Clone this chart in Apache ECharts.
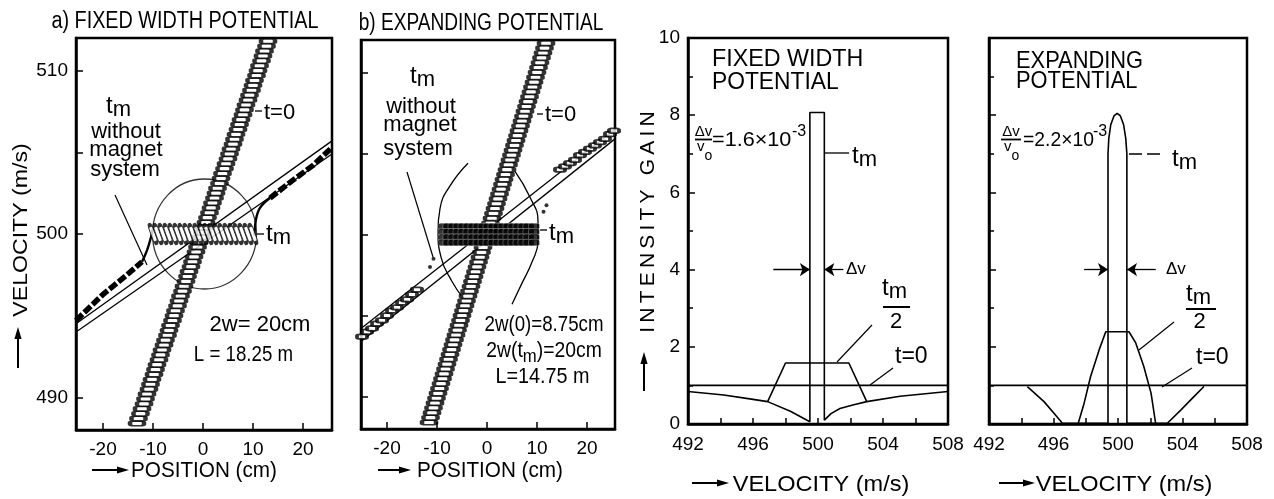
<!DOCTYPE html>
<html><head><meta charset="utf-8"><title>Phase space and intensity gain</title>
<script src="https://cdn.jsdelivr.net/npm/echarts@6.0.0/dist/echarts.min.js"></script>
<style>html,body{margin:0;padding:0;background:#fff;}#chart{width:1274px;height:499px;}</style>
</head><body><div id="chart"></div>
<script>
// ================= DATA =================
const posTicks = [-20, -10, 0, 10, 20];
const velTicks = [490, 495, 500, 505, 510];
const velLabels = [490, 500, 510];
const gainVelLabels = [492, 496, 500, 504, 508];

// t = 0 phase-space rows (velocity of each marker row, m/s)
const t0Vel = [488.4,488.7,489.0,489.3,489.6,489.9,490.2,490.5,490.8,491.1,
  491.4,491.7,492.0,492.3,492.6,492.9,493.2,493.5,493.8,494.1,
  494.4,494.7,495.0,495.3,495.6,495.9,496.2,496.5,496.8,497.1,
  497.4,497.7,498.0,498.3,498.6,498.9,499.2,499.5,499.8,500.1,
  500.4,500.7,501.0,501.3,501.6,501.9,502.2,502.5,502.8,503.1,
  503.4,503.7,504.0,504.3,504.6,504.9,505.2,505.5,505.8,506.1,
  506.4,506.7,507.0,507.3,507.6,507.9,508.2,508.5,508.8,509.1,
  509.4,509.7,510.0,510.3,510.6,510.9,511.2,511.5,511.8];
// panel a: position of each t=0 row (cm)
const aT0Pos = [-13.2,-12.9,-12.5,-12.2,-11.8,-11.5,-11.2,-10.8,-10.5,-10.2,
  -9.8,-9.5,-9.2,-8.8,-8.5,-8.2,-7.8,-7.5,-7.1,-6.8,
  -6.5,-6.1,-5.8,-5.5,-5.1,-4.8,-4.5,-4.1,-3.8,-3.4,
  -3.1,-2.8,-2.4,-2.1,-1.8,-1.4,-1.1,-0.8,-0.4,-0.1,
  0.2,0.6,0.9,1.3,1.6,1.9,2.3,2.6,2.9,3.3,
  3.6,3.9,4.3,4.6,5.0,5.3,5.6,6.0,6.3,6.6,
  7.0,7.3,7.6,8.0,8.3,8.6,9.0,9.3,9.7,10.0,
  10.3,10.7,11.0,11.3,11.7,12.0,12.3,12.7,13.0];
// panel b: position of each t=0 row (cm)
const bT0Pos = [-11.6,-11.3,-11.0,-10.7,-10.4,-10.1,-9.8,-9.5,-9.2,-8.9,
  -8.6,-8.3,-8.0,-7.7,-7.4,-7.1,-6.8,-6.5,-6.2,-5.9,
  -5.6,-5.3,-5.0,-4.7,-4.4,-4.1,-3.8,-3.5,-3.2,-2.9,
  -2.6,-2.3,-2.0,-1.7,-1.4,-1.1,-0.8,-0.5,-0.2,0.1,
  0.4,0.7,1.0,1.3,1.6,1.9,2.2,2.5,2.8,3.1,
  3.4,3.7,4.0,4.3,4.6,4.9,5.2,5.5,5.8,6.1,
  6.4,6.7,7.0,7.3,7.6,7.9,8.2,8.5,8.8,9.1,
  9.4,9.7,10.0,10.3,10.6,10.9,11.2,11.5,11.8];

// panel a: trapped particles at t_m (position, velocity)
const aCore = [[-10,500],[-9,500],[-8,500],[-7,500],[-6,500],[-5,500],[-4,500],[-3,500],[-2,500],[-1,500],[0,500],
  [1,500],[2,500],[3,500],[4,500],[5,500],[6,500],[7,500],[8,500],[9,500],[10,500]];
const aOuterLeft = [[-25.4,494.7],[-20,496.3],[-15.2,497.5],[-12.2,498.3]];
const aBendLeft = [[-12.2,498.3],[-11.2,499.0],[-10.4,499.8],[-10.0,500.4]];
const aBendRight = [[10.3,499.9],[10.6,500.9],[11.4,501.6],[13.4,502.2]];
const aOuterRight = [[13.4,502.2],[18,503.3],[22,504.2],[25.8,505.3]];
const aFreeUpper = [[-25.4,494.5],[25.8,505.7]];
const aFreeLower = [[-25.4,494.0],[25.8,504.9]];
const aSeparatrixCentre = [[0.3,500]];

// panel b
const bCorePos = [-8.7,-7.7,-6.7,-5.7,-4.7,-3.7,-2.7,-1.7,-0.7,0.3,1.3,2.3,3.3,4.3,5.3,6.3,7.3,8.3,9.4];
const bCoreVel = [500.5,500.17,499.83,499.5];
const bOuterPos = [-25.0,-24.0,-23.0,-22.0,-21.0,-20.0,-19.0,-18.0,-17.0,-16.0,-15.0,-14.0,
  14.6,15.6,16.6,17.6,18.6,19.6,20.6,21.6,22.6,23.6,24.6,25.4];
const bOuterVel = [493.7,494.0,494.2,494.5,494.7,495.0,495.3,495.5,495.8,496.0,496.3,496.6,
  504.0,504.2,504.4,504.6,504.9,505.1,505.3,505.5,505.7,505.9,506.2,506.4];
const bStray = [[-10.7,498.5],[-11.4,498.0],[11.3,501.4],[11.9,501.8]];
const bEnvLeft = [[-3.8,504.4],[-7.4,503.0],[-9.4,501.6],[-9.8,500.2],[-9.2,498.6],[-7.0,497.1],[-4.8,496.1]];
const bEnvRight = [[5.6,503.9],[8.6,502.3],[10.2,500.8],[10.2,499.6],[9.0,498.3],[7.0,497.0],[5.0,495.7]];
const bFreeUpper = [[-25.2,494.2],[25.6,506.5]];
const bFreeLower = [[-25.2,493.4],[25.6,505.9]];

// panel c: fixed width potential, intensity gain vs velocity
const cT0 = [[492,1],[508,1]];
const cTm = [[492,0.84],[494.2,0.75],[495.8,0.65],[496.9,0.58],[498.3,0.33],[499.1,0.15],[499.5,0.06],
  [499.5,8.07],[500.39,8.07],[500.39,0.1],[500.8,0.27],[501.35,0.4],[502.2,0.5],[503,0.58],[505.05,0.72],[508,0.84]];
const cHalf = [[496.9,0.58],[498.0,1.58],[501.9,1.58],[503.0,0.58]];
const cDvLeft = [497.25, 499.5];
const cDvRight = [501.56, 500.39];

// panel d: expanding potential
const dT0 = [[492,1],[508,1]];
const dTm = [[494.38,0.97],[495.41,0.58],[496.03,0.28],[496.55,0.02],[499.38,0.02],[499.38,7.0],[499.43,7.4],
  [499.55,7.75],[499.75,7.98],[499.95,8.05],[500.15,7.98],[500.35,7.75],[500.48,7.4],[500.55,7.0],[500.55,0.02],
  [503.06,0.02],[503.89,0.36],[504.71,0.71],[505.33,0.97]];
const dHalf = [[497.52,0],[497.9,0.54],[498.3,1.23],[498.83,1.92],[499.24,2.39],[500.68,2.39],[501.1,2.1],
  [501.6,1.49],[502.05,0.8],[502.34,0]];
const dDvLeft = [497.9, 499.38];
const dDvRight = [502.34, 500.56];
const dvLevel = 4.0;

// ================= HELPERS =================
const FONT = "'Liberation Sans', Arial, Helvetica, sans-serif";
const ctx = document.createElement('canvas').getContext('2d');
function tw(s, size) { ctx.font = size + 'px ' + FONT; return ctx.measureText(s).width; }
function run(x, y, parts, o) {
  o = o || {};
  const total = parts.reduce((a, p) => a + tw(p[0], p[1]), 0);
  let cx = o.align === 'center' ? -total / 2 : (o.align === 'right' ? -total : 0);
  const children = parts.map(p => {
    const el = { type: 'text', x: cx, y: (p[2] || 0) - (o.mid ? 0 : 0.3465 * p[1]),
      style: { text: p[0], font: p[1] + 'px ' + FONT, fill: '#000', textAlign: 'left', textVerticalAlign: 'middle' } };
    cx += tw(p[0], p[1]);
    return el;
  });
  return { type: 'group', x: x, y: y, scaleX: o.sx || 1, rotation: o.rot || 0, silent: true, children: children };
}
function tm(x, base, o) { return run(x, base, [['t', 24, 0], ['m', 22, 3]], o); }
function seg(x1, y1, x2, y2, w, dash) {
  return { type: 'line', silent: true, shape: { x1, y1, x2, y2 },
    style: { stroke: '#000', lineWidth: w || 1.3, lineDash: dash || null } };
}
function arrow(x1, y1, x2, y2) {
  const head = 12, hw = 3.6;
  const dx = x2 - x1, dy = y2 - y1, L = Math.hypot(dx, dy), ux = dx / L, uy = dy / L;
  const bx = x2 - ux * head, by = y2 - uy * head;
  return [seg(x1, y1, bx, by, 2),
    { type: 'polygon', silent: true, shape: { points: [[x2, y2], [bx - uy * hw, by + ux * hw], [bx + uy * hw, by - ux * hw]] },
      style: { fill: '#000' } }];
}
const spaced = s => s.split('').join('\u2009');

// ================= AXES =================
const AXLINE = { show: true, onZero: false, lineStyle: { color: '#000', width: 2.5 } };
const TICKSTYLE = { color: '#000', width: 1.5 };
const LABEL = { color: '#000', fontSize: 19, fontFamily: FONT };
const grids = [
  { left: 76, top: 38, width: 256, height: 392 },
  { left: 361, top: 40, width: 254, height: 389 },
  { left: 688, top: 38, width: 260, height: 386 },
  { left: 989, top: 38, width: 258, height: 386 }
].map(g => Object.assign(g, { show: true, borderColor: '#000', borderWidth: 2.5, backgroundColor: 'transparent', containLabel: false }));

function posAxis(gi, min, max) {
  return { type: 'value', gridIndex: gi, min, max, axisLine: AXLINE, splitLine: { show: false },
    axisTick: { inside: true, length: 7, customValues: posTicks, lineStyle: TICKSTYLE },
    axisLabel: Object.assign({ customValues: posTicks, margin: 10,
      formatter: v => (Math.abs(v % 10) < 1e-6 ? String(v) : '') }, LABEL) };
}
function velAxis(gi, showLabels) {
  return { type: 'value', gridIndex: gi, min: 488, max: 512, axisLine: AXLINE, splitLine: { show: false },
    axisTick: { inside: true, length: 7, customValues: velTicks, lineStyle: TICKSTYLE },
    axisLabel: Object.assign({ show: showLabels, customValues: velLabels, margin: 8,
      formatter: v => (Math.abs(v % 10) < 1e-6 ? String(v) : '') }, LABEL) };
}
function gainXAxis(gi) {
  return { type: 'value', gridIndex: gi, min: 492, max: 508, interval: 2, axisLine: AXLINE, splitLine: { show: false },
    axisTick: { inside: true, length: 6, lineStyle: TICKSTYLE },
    axisLabel: Object.assign({ margin: 11, formatter: v => (gainVelLabels.indexOf(v) >= 0 ? String(v) : '') }, LABEL) };
}
function gainYAxis(gi, showLabels) {
  return { type: 'value', gridIndex: gi, min: 0, max: 10, interval: 2, axisLine: AXLINE, splitLine: { show: false },
    axisTick: { inside: true, length: 7, lineStyle: TICKSTYLE },
    minorTick: { show: true, splitNumber: 2, length: 5, lineStyle: TICKSTYLE },
    axisLabel: Object.assign({ show: showLabels, margin: 8 }, LABEL) };
}

// ================= SERIES =================
const BLACK = '#000';
function lineS(xi, data, w, extra) {
  return Object.assign({ type: 'line', xAxisIndex: xi, yAxisIndex: xi, data, showSymbol: false, symbol: 'none',
    silent: true, lineStyle: { color: BLACK, width: w || 1.5 }, z: 3 }, extra || {});
}
function hollow(xi, data, size, rot, z, bw) {
  return { type: 'scatter', xAxisIndex: xi, yAxisIndex: xi, data, symbol: 'roundRect', symbolSize: size,
    symbolRotate: rot || 0, silent: true, itemStyle: { color: '#fff', borderColor: BLACK, borderWidth: bw || 2.6 }, z: z || 4 };
}
function arrows(left, right) {
  return { silent: true, symbol: ['none', 'arrow'], symbolSize: 10, label: { show: false },
    lineStyle: { color: BLACK, width: 1.3, type: 'solid' }, emphasis: { disabled: true }, animation: false,
    data: [[{ coord: [left[0], dvLevel] }, { coord: [left[1], dvLevel] }],
           [{ coord: [right[0], dvLevel] }, { coord: [right[1], dvLevel] }]] };
}

const series = [
  // ---- panel a ----
  { type: 'scatter', xAxisIndex: 0, yAxisIndex: 0, data: aSeparatrixCentre, symbol: 'circle', symbolSize: [104, 110],
    silent: true, itemStyle: { color: 'rgba(0,0,0,0)', borderColor: BLACK, borderWidth: 1.3 }, z: 2 },
  lineS(0, aFreeUpper, 1.3), lineS(0, aFreeLower, 1.3),
  lineS(0, aOuterLeft, 5, { lineStyle: { color: BLACK, width: 5.5, type: [9, 2.5] } }),
  lineS(0, aOuterRight, 5, { lineStyle: { color: BLACK, width: 5.5, type: [9, 2.5] } }),
  lineS(0, aBendLeft, 2.4, { smooth: 0.4 }), lineS(0, aBendRight, 2.4, { smooth: 0.4 }),
  hollow(0, aT0Pos.map((x, i) => [x, t0Vel[i]]), [14, 4.6]),
  hollow(0, aCore, [4.2, 19], 20, 5, 2),
  // ---- panel b ----
  lineS(1, bEnvLeft, 1.3, { smooth: 0.5 }), lineS(1, bEnvRight, 1.3, { smooth: 0.5 }),
  lineS(1, bFreeUpper, 1.3), lineS(1, bFreeLower, 1.3),
  hollow(1, bOuterPos.map((x, i) => [x, bOuterVel[i]]), [10, 4.6]),
  hollow(1, bT0Pos.map((x, i) => [x, t0Vel[i]]), [14, 4.6]),
  { type: 'scatter', xAxisIndex: 1, yAxisIndex: 1, silent: true, symbol: 'roundRect', symbolSize: [11, 6.5], z: 5,
    data: bCoreVel.flatMap(v => bCorePos.map(x => [x, v])),
    itemStyle: { color: '#000', borderColor: '#fff', borderWidth: 0.35 } },
  { type: 'scatter', xAxisIndex: 1, yAxisIndex: 1, silent: true, symbol: 'circle', symbolSize: 4, z: 5,
    data: bStray, itemStyle: { color: BLACK } },
  // ---- panel c ----
  lineS(2, cT0, 1.6, { markLine: arrows(cDvLeft, cDvRight) }),
  lineS(2, cTm, 1.6), lineS(2, cHalf, 1.6),
  // ---- panel d ----
  lineS(3, dT0, 1.6, { markLine: arrows(dDvLeft, dDvRight) }),
  lineS(3, dTm, 1.6), lineS(3, dHalf, 1.6)
];

// ================= TEXT / ANNOTATIONS =================
const G = [];
// titles
G.push(run(185, 30, [['a) FIXED WIDTH POTENTIAL', 23]], { align: 'center', sx: 0.86 }));
G.push(run(481, 32, [['b) EXPANDING POTENTIAL', 23]], { align: 'center', sx: 0.83 }));
// axis names
G.push(run(21, 230, [['VELOCITY (m/s)', 21, 0]], { align: 'center', sx: 1.1, rot: Math.PI / 2, mid: true }));
G.push(...arrow(18, 368, 18, 327));
G.push(run(204, 479, [['POSITION (cm)', 22]], { align: 'center', sx: 0.94 }));
G.push(...arrow(92, 470, 129, 470));
G.push(run(490, 479, [['POSITION (cm)', 22]], { align: 'center', sx: 0.94 }));
G.push(...arrow(378, 470, 411, 470));
G.push(run(648, 222, [[spaced('INTENSITY GAIN'), 21, 0]], { align: 'center', rot: Math.PI / 2, mid: true }));
G.push(...arrow(644, 391, 644, 352));
G.push(run(821, 493, [['VELOCITY (m/s)', 22]], { align: 'center', sx: 1.07 }));
G.push(...arrow(692, 483, 729, 483));
G.push(run(1124, 493, [['VELOCITY (m/s)', 22]], { align: 'center', sx: 1.07 }));
G.push(...arrow(999, 483, 1035, 483));

// panel a annotations
G.push(tm(106, 115));
G.push(run(126, 140, [['without', 22]], { align: 'center' }));
G.push(run(126, 158, [['magnet', 22]], { align: 'center' }));
G.push(run(125, 178, [['system', 22]], { align: 'center' }));
G.push(seg(115, 195, 147, 265, 1.2));
G.push(seg(255, 111, 262, 111, 1.3));
G.push(run(264, 121, [['t=0', 22]]));
G.push(seg(257, 234, 264, 234, 1.3));
G.push(tm(266, 243));
G.push(run(260, 333, [['2w= 20cm', 22]], { align: 'center' }));
G.push(run(243.5, 363, [['L = 18.25 m', 22]], { align: 'center', sx: 0.85 }));

// panel b annotations
G.push(tm(410, 85));
G.push(run(421, 115, [['without', 22]], { align: 'center' }));
G.push(run(420, 133, [['magnet', 22]], { align: 'center' }));
G.push(run(418, 157, [['system', 22]], { align: 'center' }));
G.push(seg(407, 172, 433, 257, 1.2));
G.push(seg(537, 114, 543, 114, 1.3));
G.push(run(545, 123, [['t=0', 22]]));
G.push(seg(540, 230, 547, 230, 1.3));
G.push(tm(549, 242));
G.push(run(544, 333, [['2w(0)=8.75cm', 22]], { align: 'center', sx: 0.85 }));
G.push(run(544, 359, [['2w(t', 22, 0], ['m', 19, 4], [')=20cm', 22, 0]], { align: 'center', sx: 0.88 }));
G.push(run(542.5, 385, [['L=14.75 m', 22]], { align: 'center', sx: 0.9 }));

// panel c annotations
G.push(run(712, 68, [['FIXED WIDTH', 24]], { sx: 0.97 }));
G.push(run(712, 91, [['POTENTIAL', 24]], { sx: 0.95 }));
G.push(run(703.5, 137, [['Δv', 15]], { align: 'center' }));
G.push(seg(695, 139.5, 712, 139.5, 1.8));
G.push(run(697, 152, [['v', 15, 0], ['o', 14, 9]]));
G.push(run(712, 147, [['=1.6×10', 21, 0]], { sx: 1.03 }));
G.push(run(792, 137, [['-3', 16, 0]]));
G.push(seg(825, 153, 849, 153, 1.3));
G.push(tm(852, 165));
G.push(run(846, 275, [['Δv', 17]]));
G.push(tm(882, 297));
G.push(seg(883, 307, 910, 307, 2));
G.push(run(896, 330, [['2', 22]], { align: 'center' }));
G.push(seg(837, 362, 872, 325, 1.2));
G.push(run(895, 365, [['t=0', 23]]));
G.push(seg(870, 385, 893, 368, 1.2));

// panel d annotations
G.push(run(1016, 70, [['EXPANDING', 24]], { sx: 0.91 }));
G.push(run(1016, 90, [['POTENTIAL', 24]], { sx: 0.91 }));
G.push(run(1011, 137, [['Δv', 15]], { align: 'center' }));
G.push(seg(1001, 139.5, 1021, 139.5, 1.8));
G.push(run(1004, 152, [['v', 15, 0], ['o', 14, 9]]));
G.push(run(1023, 147, [['=2.2×10', 21, 0]], { sx: 0.92 }));
G.push(run(1093, 137, [['-3', 16, 0]]));
G.push(seg(1129, 154, 1162, 154, 1.3, [13, 5]));
G.push(tm(1172, 168));
G.push(run(1166, 275, [['Δv', 17]]));
G.push(tm(1186, 303));
G.push(seg(1186, 309, 1216, 309, 2));
G.push(run(1199.5, 330, [['2', 22]], { align: 'center' }));
G.push(seg(1139, 350, 1174, 322, 1.2));
G.push(run(1196, 366, [['t=0', 23]]));
G.push(seg(1162, 387, 1192, 368, 1.2));

// ================= CHART =================
const chart = echarts.init(document.getElementById('chart'), null, { renderer: 'canvas' });
chart.setOption({
  animation: false,
  backgroundColor: '#fff',
  grid: grids,
  xAxis: [posAxis(0, -25.4, 25.8), posAxis(1, -25.2, 25.6), gainXAxis(2), gainXAxis(3)],
  yAxis: [velAxis(0, true), velAxis(1, false), gainYAxis(2, true), gainYAxis(3, false)],
  series: series,
  graphic: { elements: G }
});
</script></body></html>
